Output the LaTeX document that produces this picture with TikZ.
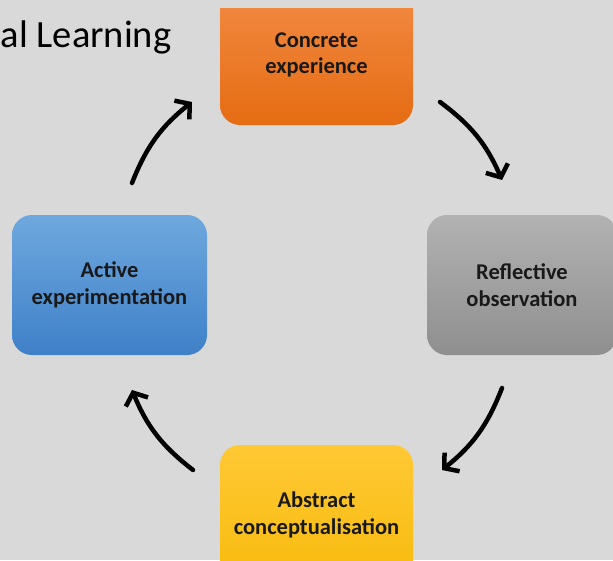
\documentclass[tikz,border=0pt]{standalone}
\usepackage{fontspec}
\setmainfont{Carlito}
\usetikzlibrary{arrows.meta}
\definecolor{bg}{HTML}{D9D9D9}
\definecolor{orT}{HTML}{F38B45}
\definecolor{orB}{HTML}{E56C12}
\definecolor{grT}{HTML}{B2B2B2}
\definecolor{grB}{HTML}{8F8F8F}
\definecolor{yeT}{HTML}{FFC935}
\definecolor{yeB}{HTML}{F7BA0B}
\definecolor{blT}{HTML}{6EA8DE}
\definecolor{blB}{HTML}{3F80C8}
\begin{document}
\begin{tikzpicture}[x=1pt,y=-1pt,
  box/.style={rectangle, rounded corners=20pt, inner sep=0pt, align=center,
    minimum width=193pt, minimum height=140pt,
    font=\bfseries\fontsize{22.5}{26.5}\selectfont, text=black!90},
  cyc/.style={line width=4.5pt, line cap=round,
    -{Straight Barb[length=10pt,width=24pt,line width=4.5pt]}}]
\useasboundingbox (0,0) rectangle (613,560);
\clip (0,0) rectangle (613,560);
\fill[bg] (0,0) rectangle (613,560);
\node[anchor=base west, font=\fontsize{38.5}{42}\selectfont, inner sep=0pt] (title) at (0.5,47) {al Learning};
\begin{scope}
  \clip (0,8) rectangle (613,560);
  \node[box, top color=orT, bottom color=orB] (ce) at (316.5,55) {Concrete\\experience};
\end{scope}
\node[box, top color=grT, bottom color=grB, minimum width=190pt] (ro) at (522,285) {Reflective\\observation};
\node[box, top color=yeT, bottom color=yeB] (ac) at (316.5,515) {Abstract\\conceptualisation};
\node[box, top color=blT, bottom color=blB, minimum width=195pt] (ae) at (109.5,285) {Active\\experimentation};
\coordinate (a1s) at (440,102); \coordinate (a1e) at (502,180);
\coordinate (a2s) at (502,388); \coordinate (a2e) at (442,470);
\coordinate (a3s) at (193,470); \coordinate (a3e) at (132,390);
\coordinate (a4s) at (132,183); \coordinate (a4e) at (192,102);
\draw[cyc] (a1s) to[bend left=15] (a1e);
\draw[cyc] (a2s) to[bend left=15] (a2e);
\draw[cyc] (a3s) to[bend left=15] (a3e);
\draw[cyc] (a4s) to[bend left=15] (a4e);
\end{tikzpicture}
\end{document}
